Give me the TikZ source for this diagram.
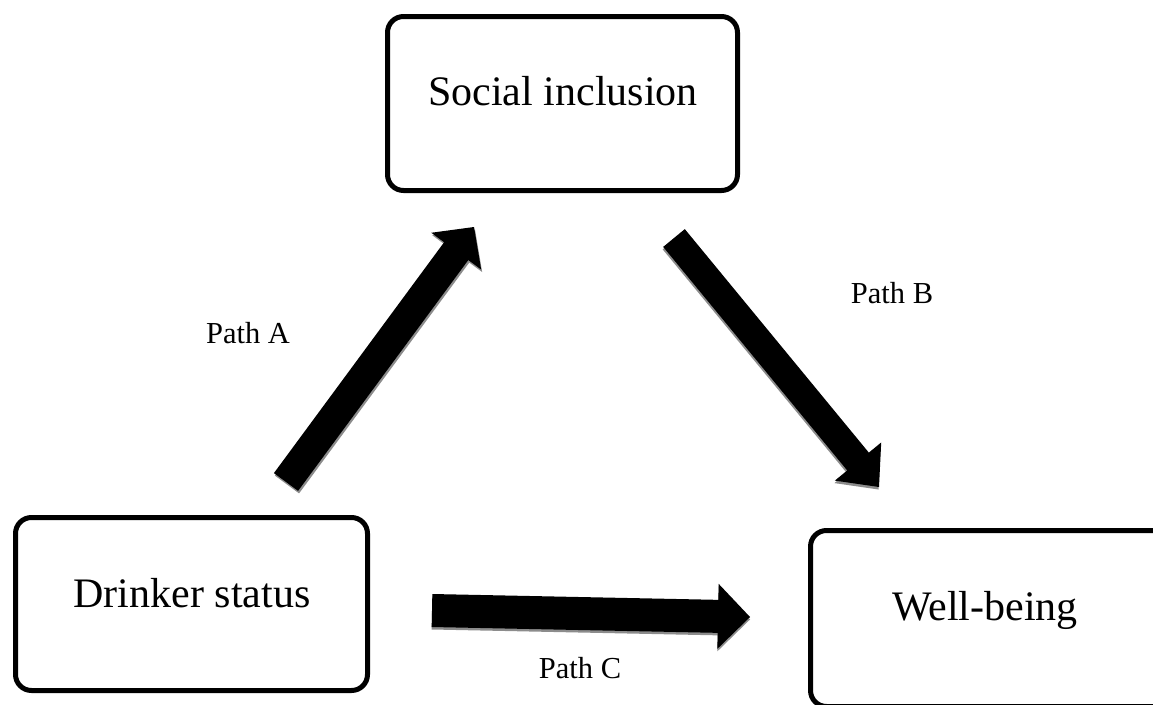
\documentclass[tikz,border=0pt]{standalone}
\usepackage{fontspec}
\setmainfont{Liberation Serif}
\usetikzlibrary{calc}
\newcommand\myblockarrow[6]{%
  \path ($(#2)!#5!(#1)$) coordinate (ba-base);
  \fill[#6] ($(#1)!#3!90:(#2)$) -- ($(ba-base)!#3!90:(#2)$) -- ($(ba-base)!#4!90:(#2)$) -- (#2)
    -- ($(ba-base)!#4!-90:(#2)$) -- ($(ba-base)!#3!-90:(#2)$) -- ($(#1)!#3!-90:(#2)$) -- cycle;}
\begin{document}
\begin{tikzpicture}[x=1pt,y=-1pt,
  box/.style={draw,line width=5pt,rounded corners=16pt,inner sep=0pt},
  boxtext/.style={font=\fontsize{42}{50}\selectfont,anchor=base,inner sep=0pt},
  pathlabel/.style={font=\fontsize{30.5}{36}\selectfont,anchor=base,inner sep=0pt},
  blockarrow/.style={fill=black},
  arrowshadow/.style={fill=black!45}]
\useasboundingbox (0,0) rectangle (1153,704);
\clip (0,0) rectangle (1153,704);
% boxes
\node[box,minimum width=350pt,minimum height=174pt] (si) at (562.5,103.5) {};
\node[box,minimum width=352pt,minimum height=173pt] (ds) at (191.5,604) {};
\node[box,minimum width=359.5pt,minimum height=176pt] (wb) at (990.25,618.5) {};
\node[boxtext] (sit) at (563,105) {Social inclusion};
\node[boxtext] (dst) at (192,607) {Drinker status};
\node[boxtext] (wbt) at (985,620) {Well-being};
% arrow end points
\coordinate (a1) at (286,482);
\coordinate (a2) at (474,227);
\coordinate (b1) at (674,238);
\coordinate (b2) at (879,487);
\coordinate (c1) at (432,610.5);
\coordinate (c2) at (750,617);
% shadow end points
\coordinate (a1s) at (287,484.5);
\coordinate (a2s) at (475,229.5);
\coordinate (b1s) at (673.5,240.5);
\coordinate (b2s) at (878.5,489.5);
\coordinate (c1s) at (432,613);
\coordinate (c2s) at (750,619.5);
% shadows
\myblockarrow{a1s}{a2s}{15pt}{31pt}{30pt}{arrowshadow}
\myblockarrow{b1s}{b2s}{14pt}{30pt}{33pt}{arrowshadow}
\myblockarrow{c1s}{c2s}{16.5pt}{32.5pt}{32pt}{arrowshadow}
% arrows
\myblockarrow{a1}{a2}{15pt}{31pt}{30pt}{blockarrow}
\myblockarrow{b1}{b2}{14pt}{30pt}{33pt}{blockarrow}
\myblockarrow{c1}{c2}{16.5pt}{32.5pt}{32pt}{blockarrow}
% labels
\node[pathlabel] (pa) at (248,343) {Path A};
\node[pathlabel] (pb) at (892,303) {Path B};
\node[pathlabel] (pc) at (580,678) {Path C};
\end{tikzpicture}
\end{document}
